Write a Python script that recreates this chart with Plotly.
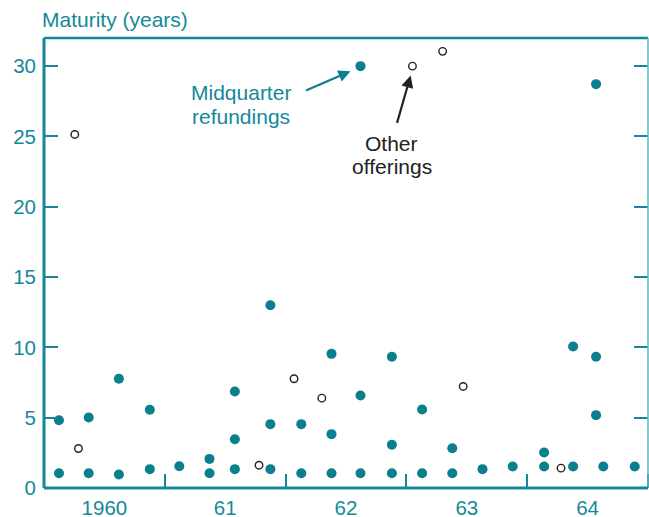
import plotly.graph_objects as go

# Midquarter refundings (filled teal dots): decimal year, maturity in years
mid_x = [1960.124, 1960.124, 1960.37, 1960.37, 1960.62, 1960.62, 1960.876, 1960.876,
         1961.12, 1961.37, 1961.37, 1961.58, 1961.58, 1961.58, 1961.874, 1961.874, 1961.874,
         1962.13, 1962.13, 1962.38, 1962.38, 1962.38, 1962.62, 1962.62, 1962.62,
         1962.88, 1962.88, 1962.88, 1963.13, 1963.13, 1963.38, 1963.38, 1963.63, 1963.88,
         1964.14, 1964.14, 1964.38, 1964.38, 1964.57, 1964.57, 1964.57, 1964.63, 1964.89]
mid_y = [4.82, 1.05, 5.01, 1.05, 7.77, 0.96, 5.56, 1.34,
         1.55, 2.07, 1.05, 6.86, 3.47, 1.34, 13.0, 4.54, 1.34,
         4.54, 1.05, 9.54, 3.83, 1.05, 30.0, 6.58, 1.05,
         9.33, 3.07, 1.05, 5.58, 1.05, 2.83, 1.05, 1.34, 1.53,
         2.52, 1.53, 10.06, 1.53, 28.72, 9.33, 5.18, 1.53, 1.53]

# Other offerings (hollow black circles)
oth_x = [1960.255, 1960.285, 1961.78, 1962.07, 1962.30, 1963.05, 1963.30, 1963.47, 1964.28]
oth_y = [25.14, 2.81, 1.62, 7.77, 6.39, 30.0, 31.05, 7.22, 1.41]

# Axis ticks
y_ticks = [0, 5, 10, 15, 20, 25, 30]
x_label_pos = [1960.5, 1961.5, 1962.5, 1963.5, 1964.5]
x_labels = ["1960", "61", "62", "63", "64"]

TEAL = "#0b7f8e"
TEAL_TXT = "#14899a"
AXIS = "#16879a"
AXIS_LIGHT = "#62b6c4"
FONT = "Liberation Sans"

fig = go.Figure()
fig.add_trace(go.Scatter(x=mid_x, y=mid_y, mode="markers", name="Midquarter refundings",
                         marker=dict(size=10, color=TEAL, line=dict(width=0))))
fig.add_trace(go.Scatter(x=oth_x, y=oth_y, mode="markers", name="Other offerings",
                         marker=dict(size=7.5, color="white", line=dict(width=1.4, color="#222222"))))

fig.update_layout(
    width=649, height=517,
    margin=dict(l=44, r=1, t=38, b=29),
    paper_bgcolor="white", plot_bgcolor="white",
    showlegend=False,
    font=dict(family=FONT, color=TEAL_TXT, size=20),
    xaxis=dict(range=[1960, 1965], showgrid=False, zeroline=False, showline=False,
               automargin=False,
               tickvals=x_label_pos, ticktext=x_labels, ticks="", ticklen=0,
               ticklabelstandoff=5,
               tickfont=dict(size=20.5, color=TEAL_TXT),
               minor=dict(tick0=1961, dtick=1, ticks="inside", ticklen=14,
                          tickwidth=2, tickcolor=AXIS, showgrid=False)),
    yaxis=dict(range=[0, 32], showgrid=False, zeroline=False, showline=False,
               automargin=False,
               tickvals=y_ticks, ticks="inside", ticklen=14, tickwidth=2,
               tickcolor=AXIS, mirror="ticks", ticklabelstandoff=7,
               tickfont=dict(size=20.5, color=TEAL_TXT)),
)

# Frame lines
fig.add_shape(type="line", xref="paper", yref="paper", x0=0, x1=1, y0=1, y1=1,
              line=dict(color=AXIS, width=2.5), layer="above")
fig.add_shape(type="line", xref="paper", yref="paper", x0=1, x1=1, y0=0, y1=1,
              line=dict(color=AXIS_LIGHT, width=1.5), layer="above")
fig.add_shape(type="line", xref="paper", yref="paper", x0=0, x1=0, y0=0, y1=1,
              line=dict(color=AXIS, width=3), layer="above")
fig.add_shape(type="line", xref="paper", yref="paper", x0=0, x1=1, y0=0, y1=0,
              line=dict(color=AXIS, width=3), layer="above")

# Axis title
fig.add_annotation(text="Maturity (years)", xref="paper", yref="paper", x=0, y=1.04,
                   xanchor="left", yanchor="middle", xshift=-4, showarrow=False,
                   font=dict(size=21, color=TEAL_TXT, family=FONT))

# Labels (one annotation per line for tighter line spacing)
fig.add_annotation(text="Midquarter", x=1961.631, y=28.1,
                   xanchor="center", yanchor="middle", showarrow=False,
                   font=dict(size=21, color=TEAL_TXT, family=FONT))
fig.add_annotation(text="refundings", x=1961.631, y=26.45,
                   xanchor="center", yanchor="middle", showarrow=False,
                   font=dict(size=21, color=TEAL_TXT, family=FONT))
fig.add_annotation(text="Other", x=1962.88, y=24.5,
                   xanchor="center", yanchor="middle", showarrow=False,
                   font=dict(size=21, color="#222222", family=FONT))
fig.add_annotation(text="offerings", x=1962.88, y=22.85,
                   xanchor="center", yanchor="middle", showarrow=False,
                   font=dict(size=21, color="#222222", family=FONT))

# Arrows
fig.add_annotation(text="", x=1962.537, y=29.64, ax=-46, ay=20, showarrow=True,
                   arrowhead=2, arrowsize=1.1, arrowwidth=2.2, arrowcolor=TEAL)
fig.add_annotation(text="", x=1963.035, y=29.34, ax=-14, ay=49, showarrow=True,
                   arrowhead=2, arrowsize=1.1, arrowwidth=2.2, arrowcolor="#222222")

fig.write_html("out.html", config={"displayModeBar": False},
               post_script="document.body.style.margin='0';document.body.style.overflow='hidden';")
